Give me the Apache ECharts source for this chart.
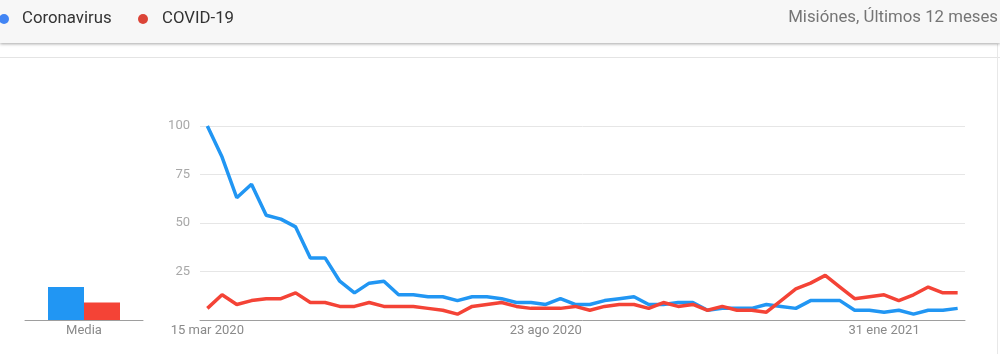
<!DOCTYPE html>
<html>
<head>
<meta charset="utf-8">
<script src="https://cdn.jsdelivr.net/npm/echarts@6/dist/echarts.min.js"></script>
<style>
html,body{margin:0;padding:0;background:#fff;}
#chart{width:1000px;height:354px;}
</style>
</head>
<body>
<div id="chart"></div>
<script>
// Weekly categories (Google Trends, Misiones, last 12 months)
const categories = [
  '15 mar 2020','22 mar 2020','29 mar 2020','5 abr 2020','12 abr 2020','19 abr 2020','26 abr 2020',
  '3 may 2020','10 may 2020','17 may 2020','24 may 2020','31 may 2020','7 jun 2020','14 jun 2020',
  '21 jun 2020','28 jun 2020','5 jul 2020','12 jul 2020','19 jul 2020','26 jul 2020','2 ago 2020',
  '9 ago 2020','16 ago 2020','23 ago 2020','30 ago 2020','6 sept 2020','13 sept 2020','20 sept 2020',
  '27 sept 2020','4 oct 2020','11 oct 2020','18 oct 2020','25 oct 2020','1 nov 2020','8 nov 2020',
  '15 nov 2020','22 nov 2020','29 nov 2020','6 dic 2020','13 dic 2020','20 dic 2020','27 dic 2020',
  '3 ene 2021','10 ene 2021','17 ene 2021','24 ene 2021','31 ene 2021','7 feb 2021','14 feb 2021',
  '21 feb 2021','28 feb 2021','7 mar 2021'
];
const tickLabels = ['15 mar 2020', '23 ago 2020', '31 ene 2021'];
const yTicks = [25, 50, 75, 100];

const coronavirus = [
  100, 84, 63, 70, 54, 52, 48, 32, 32, 20, 14, 19, 20,
  13, 13, 12, 12, 10, 12, 12, 11, 9, 9, 8, 11, 8,
  8, 10, 11, 12, 8, 8, 9, 9, 5, 6, 6, 6, 8, 7,
  6, 10, 10, 10, 5, 5, 4, 5, 3, 5, 5, 6
];
const covid19 = [
  6, 13, 8, 10, 11, 11, 14, 9, 9, 7, 7, 9, 7,
  7, 7, 6, 5, 3, 7, 8, 9, 7, 6, 6, 6, 7,
  5, 7, 8, 8, 6, 9, 7, 8, 5, 7, 5, 5, 4, 10,
  16, 19, 23, 17, 11, 12, 13, 10, 13, 17, 14, 14
];
const seriesNames = ['Coronavirus', 'COVID-19'];
const averages = [17, 9];
const averageLabel = ['Media'];

const BLUE = '#2196f3';
const RED = '#f44336';
const FONT = 'Roboto';

const chart = echarts.init(document.getElementById('chart'), null, {renderer: 'canvas'});

const option = {
  animation: false,
  backgroundColor: '#ffffff',
  textStyle: {fontFamily: FONT},
  graphic: [
    {type: 'rect', shape: {x: 0, y: 0, width: 1000, height: 43}, style: {fill: '#f7f7f7', shadowColor: 'rgba(0,0,0,0.35)', shadowBlur: 3, shadowOffsetY: 1}, z: 10},
    {type: 'rect', shape: {x: 0, y: 57, width: 1000, height: 1}, style: {fill: '#e4e4e4'}, z: 1},
    {type: 'rect', shape: {x: 997, y: 44, width: 1, height: 310}, style: {fill: '#e8e8e8'}, z: 1},
    {type: 'circle', shape: {cx: 4, cy: 19, r: 5}, style: {fill: '#4285f4'}, z: 11},
    {type: 'text', x: 22, y: 19, style: {text: seriesNames[0], fill: '#333333', font: '16.8px Roboto', textVerticalAlign: 'middle'}, z: 11},
    {type: 'circle', shape: {cx: 143, cy: 19, r: 5}, style: {fill: '#db4437'}, z: 11},
    {type: 'text', x: 162, y: 19, style: {text: seriesNames[1], fill: '#333333', font: '16.8px Roboto', textVerticalAlign: 'middle'}, z: 11},
    {type: 'text', right: 2, top: 9, style: {text: 'Misiónes, Últimos 12 meses', fill: '#757575', font: '16.8px Roboto'}, z: 11}
  ],
  grid: [
    {left: 200, right: 35, top: 126, bottom: 34},
    {left: 25, width: 118, top: 126, bottom: 34}
  ],
  xAxis: [
    {
      gridIndex: 0, type: 'category', data: categories, boundaryGap: true,
      axisLine: {lineStyle: {color: '#9e9e9e', width: 1}},
      axisTick: {show: false},
      axisLabel: {
        interval: (i, v) => tickLabels.indexOf(v) >= 0,
        color: '#8a8a8a', fontSize: 13, fontFamily: FONT, margin: 4
      },
      splitLine: {show: false}
    },
    {
      gridIndex: 1, type: 'category', data: averageLabel,
      axisLine: {lineStyle: {color: '#9e9e9e', width: 1}},
      axisTick: {show: false},
      axisLabel: {color: '#8a8a8a', fontSize: 13, fontFamily: FONT, margin: 4}
    }
  ],
  yAxis: [
    {
      gridIndex: 0, type: 'value', min: 0, max: 100, interval: 25,
      axisLine: {show: false}, axisTick: {show: false},
      axisLabel: {
        formatter: v => (yTicks.indexOf(v) >= 0 ? String(v) : ''),
        color: '#a8a8a8', fontSize: 13, fontFamily: FONT, margin: 10
      },
      splitLine: {lineStyle: {color: '#e6e6e6', width: 1}}
    },
    {
      gridIndex: 1, type: 'value', min: 0, max: 100, interval: 25, show: false,
      splitLine: {show: false}
    }
  ],
  series: [
    {
      name: seriesNames[0], type: 'line', xAxisIndex: 0, yAxisIndex: 0, data: coronavirus,
      showSymbol: false, symbol: 'none', lineStyle: {color: BLUE, width: 3.5}, itemStyle: {color: BLUE}, z: 3
    },
    {
      name: seriesNames[1], type: 'line', xAxisIndex: 0, yAxisIndex: 0, data: covid19,
      showSymbol: false, symbol: 'none', lineStyle: {color: RED, width: 3.5}, itemStyle: {color: RED}, z: 4
    },
    {
      name: seriesNames[0], type: 'bar', xAxisIndex: 1, yAxisIndex: 1, data: [averages[0]],
      barWidth: 36, barGap: '0%', itemStyle: {color: BLUE}
    },
    {
      name: seriesNames[1], type: 'bar', xAxisIndex: 1, yAxisIndex: 1, data: [averages[1]],
      barWidth: 36, barGap: '0%', itemStyle: {color: RED}
    }
  ]
};
chart.setOption(option);
</script>
</body>
</html>
